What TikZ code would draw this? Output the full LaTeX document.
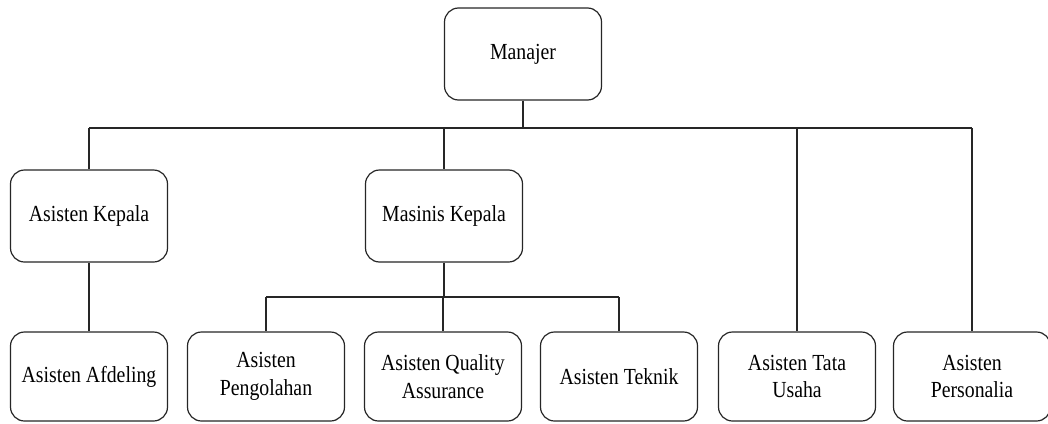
\documentclass[tikz,border=0pt]{standalone}
\usepackage{fontspec}
\setmainfont[FakeStretch=0.86]{Liberation Serif}
\begin{document}
\begin{tikzpicture}[x=1pt,y=-1pt,
  box/.style={draw=black!85, line width=1.2pt, rounded corners=14pt, minimum width=157pt, minimum height=92pt, inner sep=0pt, align=center, font=\fontsize{23}{27.5}\selectfont, fill=white},
  bottombox/.style={box, minimum height=89pt},
  conn/.style={draw=black!85, line width=1.3pt}]
\useasboundingbox (0,0) rectangle (1048,423);
\node[box] (man) at (523,54) {Manajer};
\node[box] (ak) at (89,216) {Asisten Kepala};
\node[box] (mk) at (444,216) {Masinis Kepala};
\node[bottombox] (af) at (89,376.5) {Asisten Afdeling};
\node[bottombox] (pg) at (266,376.5) {Asisten\\Pengolahan};
\node[bottombox] (qa) at (443,376.5) {Asisten Quality\\Assurance};
\node[bottombox] (tk) at (619,376.5) {Asisten Teknik};
\node[bottombox] (tu) at (797,376.5) {Asisten Tata\\Usaha};
\node[bottombox] (ps) at (972,376.5) {Asisten\\Personalia};
\coordinate (busL) at (89,128);
\coordinate (busR) at (972,128);
\coordinate (subL) at (266,297);
\coordinate (subR) at (619,297);
\draw[conn] (man.south) -- (man.south |- busL);
\draw[conn] (busL) -- (busR);
\draw[conn] (busL) -- (ak.north);
\draw[conn] (mk.north |- busL) -- (mk.north);
\draw[conn] (tu.north |- busL) -- (tu.north);
\draw[conn] (busR) -- (ps.north);
\draw[conn] (ak.south) -- (af.north);
\draw[conn] (mk.south) -- (mk.south |- subL);
\draw[conn] (subL) -- (subR);
\draw[conn] (subL) -- (pg.north);
\draw[conn] (qa.north |- subL) -- (qa.north);
\draw[conn] (subR) -- (tk.north);
\end{tikzpicture}
\end{document}
